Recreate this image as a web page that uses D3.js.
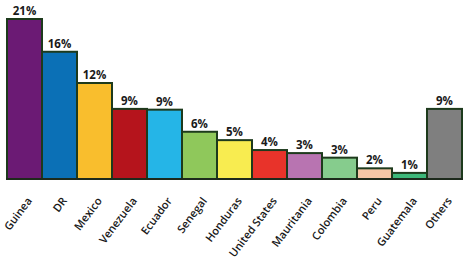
<!DOCTYPE html>
<html>
<head>
<meta charset="utf-8">
<script src="https://cdn.jsdelivr.net/npm/d3@7"></script>
<style>
  body { margin: 0; background: #fff; }
  svg text { font-family: "Open Sans", sans-serif; fill: #1a1a1a; }
</style>
</head>
<body>
<svg width="470" height="265"></svg>
<script>
// data
const countries = ["Guinea", "DR", "Mexico", "Venezuela", "Ecuador", "Senegal", "Honduras",
  "United States", "Mauritania", "Colombia", "Peru", "Guatemala", "Others"];
const shares = [21, 16.7, 12.6, 9.2, 9.1, 6.2, 5.1, 3.8, 3.4, 2.8, 1.4, 0.8, 9.2];
const shareLabels = ["21%", "16%", "12%", "9%", "9%", "6%", "5%", "4%", "3%", "3%", "2%", "1%", "9%"];
const barColors = ["#6b1a74", "#0b70b6", "#f9be2d", "#b5141c", "#25b5e7", "#8fc85b", "#f8ec50",
  "#e8332a", "#b874b1", "#86cc8d", "#f4c6a6", "#3db97a", "#7f7f7f"];

const svg = d3.select("svg");
const margin = { top: 19, right: 8, bottom: 86, left: 7 };
const width = +svg.attr("width");
const height = +svg.attr("height");

const x = d3.scaleBand()
  .domain(countries)
  .range([margin.left, width - margin.right])
  .padding(0);

const y = d3.scaleLinear()
  .domain([0, 21])
  .range([height - margin.bottom, margin.top]);

const data = countries.map((c, i) => ({ name: c, value: shares[i], label: shareLabels[i], color: barColors[i] }));

// bars
svg.selectAll("rect.bar")
  .data(data)
  .enter()
  .append("rect")
  .attr("class", "bar")
  .attr("x", d => x(d.name))
  .attr("y", d => y(d.value))
  .attr("width", x.bandwidth())
  .attr("height", d => y(0) - y(d.value))
  .attr("fill", d => d.color)
  .attr("stroke", "#1d3a1c")
  .attr("stroke-width", 2);

// baseline
svg.append("line")
  .attr("x1", margin.left - 1)
  .attr("x2", width - margin.right + 1)
  .attr("y1", y(0))
  .attr("y2", y(0))
  .attr("stroke", "#1d2a1c")
  .attr("stroke-width", 2);

// value labels
svg.selectAll("text.val")
  .data(data)
  .enter()
  .append("text")
  .attr("class", "val")
  .attr("x", d => x(d.name) + x.bandwidth() / 2)
  .attr("y", d => y(d.value) - 4)
  .attr("text-anchor", "middle")
  .style("font-size", "11.5px")
  .style("font-weight", "700")
  .text(d => d.label);

// category labels, slanted
svg.selectAll("text.cat")
  .data(data)
  .enter()
  .append("text")
  .attr("class", "cat")
  .attr("transform", d => `translate(${x(d.name) + x.bandwidth() / 2 + 8},${y(0) + 22}) rotate(-53)`)
  .attr("text-anchor", "end")
  .style("font-size", "11px")
  .style("font-weight", "600")
  .text(d => d.name);
</script>
</body>
</html>
